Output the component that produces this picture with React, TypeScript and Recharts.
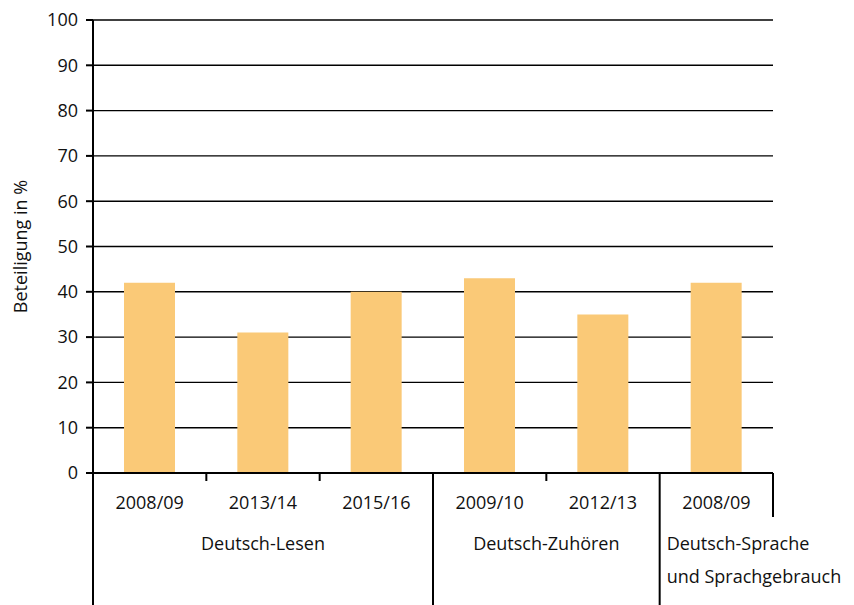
import React from 'react';
import { BarChart, Bar, XAxis, YAxis, CartesianGrid } from 'recharts';

const categories = ['2008/09', '2013/14', '2015/16', '2009/10', '2012/13', '2008/09'];
const values = [42, 31, 40, 43, 35, 42];
const groupOf = [0, 0, 0, 1, 1, 2];
const groupNames = [['Deutsch-Lesen'], ['Deutsch-Zuhören'], ['Deutsch-Sprache', 'und Sprachgebrauch']];
const yTicks = [0, 10, 20, 30, 40, 50, 60, 70, 80, 90, 100];

const data = categories.map((c, i) => ({ key: `c${i}`, year: c, value: values[i] }));

const W = 846;
const H = 597;
const MARGIN = { top: 12, right: 81, left: 0, bottom: 0 };
const Y_W = 85;
const PLOT_W = W - MARGIN.left - MARGIN.right - Y_W;
const HB = PLOT_W / categories.length / 2;
const FONT = '"Open Sans", "Noto Sans", sans-serif';

const XTick = (props: any) => {
  const { x, y, index } = props;
  const g = groupOf[index];
  const isGroupEnd = index === categories.length - 1 || groupOf[index + 1] !== g;
  const isLast = index === categories.length - 1;
  const count = groupOf.filter((v) => v === g).length;
  const els: any[] = [];
  els.push(
    <text key="yr" x={x} y={y + 29} textAnchor="middle" dominantBaseline="central" fontSize={18} fontFamily={FONT} fill="#111">
      {categories[index]}
    </text>
  );
  if (index === 0) {
    els.push(<line key="l0" x1={x - HB} x2={x - HB} y1={y} y2={H} stroke="#000" strokeWidth={2} />);
  }
  const bottom = isLast ? y + 44 : isGroupEnd ? H : y + 8;
  els.push(<line key="r" x1={x + HB} x2={x + HB} y1={y} y2={bottom} stroke="#000" strokeWidth={2} />);
  if (isGroupEnd) {
    const lines = groupNames[g];
    if (count === 1) {
      lines.forEach((t, k) => {
        els.push(
          <text key={`g${k}`} x={x - HB + 7} y={y + 70 + k * 33} textAnchor="start" dominantBaseline="central" fontSize={18} fontFamily={FONT} fill="#111">
            {t}
          </text>
        );
      });
    } else {
      const cx = x + HB - count * HB;
      els.push(
        <text key="g" x={cx} y={y + 70} textAnchor="middle" dominantBaseline="central" fontSize={18} fontFamily={FONT} fill="#111">
          {lines[0]}
        </text>
      );
    }
  }
  return <g>{els}</g>;
};

const YLabel = (props: any) => {
  const vb = props.viewBox || { x: 0, y: 12, width: 85, height: 453 };
  const cx = vb.x + 12;
  const cy = vb.y + vb.height / 2;
  return (
    <text x={cx} y={cy} transform={`rotate(-90, ${cx}, ${cy})`} textAnchor="middle" dominantBaseline="central" fontSize={18} fontFamily={FONT} fill="#111">
      Beteiligung in %
    </text>
  );
};

export default function App() {
  return (
    <div style={{ width: W, height: H }}>
      <BarChart width={W} height={H} data={data} margin={MARGIN}>
        <CartesianGrid horizontal vertical={false} stroke="#000" strokeWidth={1.4} />
        <XAxis
          dataKey="key"
          height={H - MARGIN.top - MARGIN.bottom - 453}
          axisLine={{ stroke: '#000', strokeWidth: 2 }}
          tickLine={false}
          tickSize={0}
          tickMargin={0}
          interval={0}
          tick={<XTick />}
        />
        <YAxis
          width={Y_W}
          domain={[0, 100]}
          ticks={yTicks}
          interval={0}
          axisLine={{ stroke: '#000', strokeWidth: 2 }}
          tickLine={{ stroke: '#000', strokeWidth: 2 }}
          tickSize={7}
          tickMargin={8}
          tick={{ fontSize: 18, fontFamily: FONT, fill: '#111' }}
          label={{ content: <YLabel /> }}
        />
        <Bar dataKey="value" fill="#FAC977" barSize={51} isAnimationActive={false} />
      </BarChart>
    </div>
  );
}
